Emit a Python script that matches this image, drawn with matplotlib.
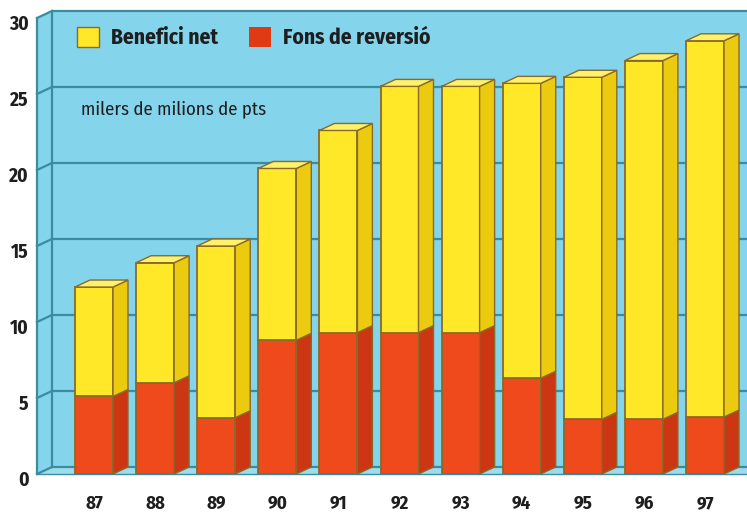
import matplotlib
matplotlib.use("Agg")
import matplotlib.pyplot as plt
from matplotlib.patches import Polygon, Patch
import matplotlib.transforms as mtrans

# ---- data ----
years = ["87", "88", "89", "90", "91", "92", "93", "94", "95", "96", "97"]
fons_reversio = [5.1, 6.0, 3.7, 8.8, 9.3, 9.3, 9.3, 6.3, 3.6, 3.6, 3.75]
total = [12.3, 13.9, 15.0, 20.1, 22.6, 25.5, 25.5, 25.7, 26.1, 27.2, 28.5]
benefici_net = [t - r for t, r in zip(total, fons_reversio)]
yticks = [0, 5, 10, 15, 20, 25, 30]
legend_labels = ["Benefici net", "Fons de reversió"]
unit_label = "milers de milions de pts"

# ---- style ----
CYAN = "#84d4ec"
FLOOR = "#9cdcee"
GRID = "#3a8c9e"
EDGE = "#8a6a2a"
Y_FRONT, Y_SIDE, Y_TOP = "#ffe827", "#ecca10", "#fff26a"
R_FRONT, R_SIDE = "#ee4a1c", "#cc3612"
FONT = ["Fira Sans Condensed", "PT Sans Narrow", "DejaVu Sans"]
TXT = "#1e1e1e"

W, H = 747, 515
fig = plt.figure(figsize=(W / 100, H / 100), dpi=100)
fig.patch.set_facecolor("white")

px_per_unit = 15.2
left_px, bottom_px, top_px = 37, 474, 474 - 30 * px_per_unit
ax = fig.add_axes([left_px / W, (H - bottom_px) / H, (W - left_px) / W, (bottom_px - top_px) / H])
pitch = 61.1
x0 = (left_px - 94) / pitch
x1 = (W - 94) / pitch
ax.set_xlim(x0, x1)
ax.set_ylim(0, 30)
for s in ax.spines.values():
    s.set_visible(False)
ax.set_facecolor("none")

dx = 15 / pitch
dy = 7 / px_per_unit
bw = 38 / pitch

# walls
ax.add_patch(Polygon([(x0 + dx, dy), (x1 + 1, dy), (x1 + 1, 30 + dy), (x0 + dx, 30 + dy)],
                     closed=True, facecolor=CYAN, edgecolor="none", zorder=0, clip_on=False))
ax.add_patch(Polygon([(x0, 0), (x0 + dx, dy), (x0 + dx, 30 + dy), (x0, 30)],
                     closed=True, facecolor=CYAN, edgecolor="none", zorder=0, clip_on=False))
ax.add_patch(Polygon([(x0, 0), (x1 + 1, 0), (x1 + 1, dy), (x0 + dx, dy)],
                     closed=True, facecolor=FLOOR, edgecolor="none", zorder=0, clip_on=False))
# grid lines
for t in yticks:
    ax.plot([x0 + dx, x1 + 1], [t + dy, t + dy], color=GRID, lw=1.6, zorder=1, clip_on=False)
    ax.plot([x0, x0 + dx], [t, t + dy], color=GRID, lw=1.6, zorder=1, clip_on=False)
ax.plot([x0, x0], [0, 30], color=GRID, lw=1.6, zorder=1, clip_on=False)
ax.plot([x0 + dx, x0 + dx], [dy, 30 + dy], color=GRID, lw=1.6, zorder=1, clip_on=False)
ax.plot([x0, x1 + 1], [0, 0], color=GRID, lw=1.0, zorder=1, clip_on=False)

xs = list(range(len(years)))
ax.bar(xs, fons_reversio, width=bw, color=R_FRONT, edgecolor=EDGE, linewidth=1.3, zorder=3)
ax.bar(xs, benefici_net, width=bw, bottom=fons_reversio, color=Y_FRONT, edgecolor=EDGE,
       linewidth=1.3, zorder=3)
for x, r, t in zip(xs, fons_reversio, total):
    xr = x + bw / 2
    ax.add_patch(Polygon([(xr, 0), (xr + dx, dy), (xr + dx, r + dy), (xr, r)], closed=True,
                         facecolor=R_SIDE, edgecolor=EDGE, lw=1.0, zorder=3, clip_on=False))
    ax.add_patch(Polygon([(xr, r), (xr + dx, r + dy), (xr + dx, t + dy), (xr, t)], closed=True,
                         facecolor=Y_SIDE, edgecolor=EDGE, lw=1.0, zorder=3, clip_on=False))
    ax.add_patch(Polygon([(x - bw / 2, t), (x - bw / 2 + dx, t + dy), (xr + dx, t + dy), (xr, t)],
                         closed=True, facecolor=Y_TOP, edgecolor=EDGE, lw=1.0, zorder=3, clip_on=False))

# ticks
ax.set_yticks(yticks)
ax.set_yticklabels([str(t) for t in yticks], fontfamily=FONT, fontweight="bold", fontsize=14,
                   color=TXT)
ax.tick_params(axis="y", length=0, pad=6)
off = mtrans.ScaledTranslation(0, -4 / 100, fig.dpi_scale_trans)
for lab in ax.get_yticklabels():
    lab.set_transform(lab.get_transform() + off)
ax.set_xticks(xs)
ax.set_xticklabels(years, fontfamily=FONT, fontweight="bold", fontsize=13.5, color=TXT)
ax.tick_params(axis="x", length=0, pad=15)

# legend
handles = [Patch(facecolor=Y_FRONT, edgecolor=EDGE, lw=1.0), Patch(facecolor="#e03a14", edgecolor="none")]
leg = fig.legend(handles, legend_labels, loc="upper left", bbox_to_anchor=(77 / W, 1 - 27 / H),
                 ncol=2, frameon=False, prop={"family": FONT, "weight": "bold", "size": 15.5},
                 handlelength=1.02, handleheight=1.02, handletextpad=0.55, columnspacing=1.45,
                 borderpad=0, borderaxespad=0)
for t in leg.get_texts():
    t.set_color(TXT)
fig.text(81 / W, 1 - 109 / H, unit_label, fontfamily=FONT, fontsize=13.5, color=TXT,
         va="center", ha="left")

fig.savefig("out.png", dpi=100)
